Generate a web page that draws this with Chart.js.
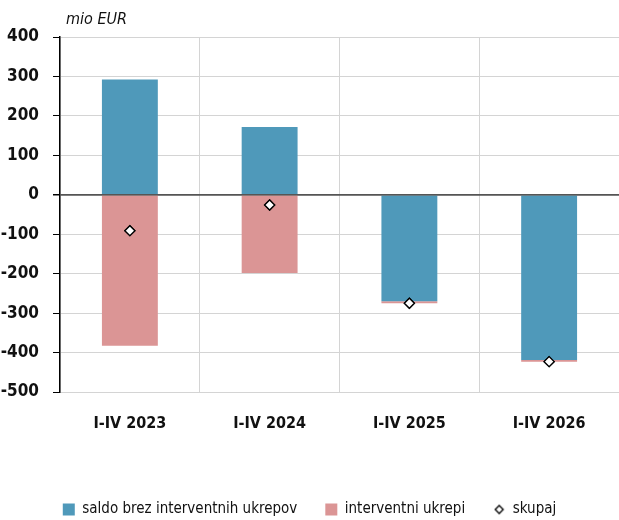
<!DOCTYPE html>
<html>
<head>
<meta charset="utf-8">
<script src="https://cdn.jsdelivr.net/npm/chart.js@4.4.1/dist/chart.umd.min.js"></script>
<style>
  body { margin: 0; background: #fff; }
  #wrap { width: 619px; height: 520px; }
</style>
</head>
<body>
<div id="wrap"><canvas id="saldoChart"></canvas></div>
<script>
var categories = ['I-IV 2023', 'I-IV 2024', 'I-IV 2025', 'I-IV 2026'];
var saldoBrez = [292, 172, -270, -419];
var interventni = [-383, -198, -5, -4];
var skupaj = [-91, -26, -275, -423];
var yTicks = [400, 300, 200, 100, 0, -100, -200, -300, -400, -500];

var fontName = "'DejaVu Sans Condensed', 'Liberation Sans Narrow', sans-serif";

// small diamond for the legend
var diamond = document.createElement('canvas');
diamond.width = 12; diamond.height = 12;
var dc = diamond.getContext('2d');
dc.beginPath();
dc.moveTo(6, 2); dc.lineTo(10, 6); dc.lineTo(6, 10); dc.lineTo(2, 6); dc.closePath();
dc.fillStyle = '#fff'; dc.fill();
dc.lineWidth = 1.3; dc.strokeStyle = '#000'; dc.stroke();

var extras = {
    id: 'extras',
    afterDatasetsDraw: function (chart) {
        // zero line drawn over the bars, as in the original
        var c = chart.ctx, a = chart.chartArea;
        var y0 = chart.scales.y.getPixelForValue(0);
        c.save();
        c.strokeStyle = '#555';
        c.lineWidth = 1.5;
        c.beginPath();
        c.moveTo(a.left, y0);
        c.lineTo(a.right, y0);
        c.stroke();
        c.restore();
        // redraw points on top
        chart.getDatasetMeta(2).controller.draw();
    },
    afterDraw: function (chart) {
        var c = chart.ctx;
        c.save();
        c.font = "italic 16px " + fontName;
        c.fillStyle = '#111';
        c.textBaseline = 'middle';
        c.fillText('mio EUR', chart.chartArea.left + 6, 20);
        c.restore();
    }
};

var ctx = document.getElementById('saldoChart').getContext('2d');
var myChart = new Chart(ctx, {
    type: 'bar',
    data: {
        labels: categories,
        datasets: [{
            label: 'saldo brez interventnih ukrepov',
            data: saldoBrez,
            backgroundColor: '#4f99ba',
            stack: 's',
            order: 1,
            barPercentage: 0.4,
            categoryPercentage: 1
        }, {
            label: 'interventni ukrepi',
            data: interventni,
            backgroundColor: '#db9595',
            stack: 's',
            order: 1,
            barPercentage: 0.4,
            categoryPercentage: 1
        }, {
            type: 'line',
            label: 'skupaj',
            data: skupaj,
            stack: 'total',
            order: 0,
            showLine: false,
            pointStyle: 'rectRot',
            pointRadius: 5,
            pointBackgroundColor: '#fff',
            pointBorderColor: '#000',
            pointBorderWidth: 1.3,
            backgroundColor: '#fff',
            borderColor: '#000'
        }]
    },
    options: {
        responsive: true,
        maintainAspectRatio: false,
        animation: false,
        layout: { autoPadding: false, padding: { top: 37, right: 0, bottom: -7, left: 0 } },
        plugins: {
            tooltip: { enabled: false },
            legend: {
                position: 'bottom',
                labels: {
                    usePointStyle: true,
                    boxWidth: 12,
                    boxHeight: 12,
                    padding: 28,
                    color: '#111',
                    font: { family: fontName, size: 15 },
                    sort: function (a, b) { return a.datasetIndex - b.datasetIndex; },
                    generateLabels: function (chart) {
                        var items = Chart.defaults.plugins.legend.labels.generateLabels(chart);
                        items.forEach(function (it) {
                            it.pointStyle = it.datasetIndex === 2 ? diamond : 'rect';
                            it.lineWidth = 0;
                        });
                        return items;
                    }
                }
            }
        },
        scales: {
            x: {
                stacked: true,
                grid: { color: '#d4d4d4', offset: true, drawTicks: false },
                border: { color: '#d4d4d4' },
                ticks: {
                    color: '#111',
                    padding: 22,
                    font: { family: fontName, size: 16, weight: 'bold' }
                },
                afterFit: function (s) { s.height = 82; }
            },
            y: {
                stacked: true,
                min: -500,
                max: 400,
                afterBuildTicks: function (s) {
                    s.ticks = yTicks.map(function (v) { return { value: v }; });
                },
                grid: {
                    color: function (c) { return c.tick && c.tick.value === 0 ? '#555' : '#d4d4d4'; },
                    lineWidth: function (c) { return c.tick && c.tick.value === 0 ? 1.5 : 1; },
                    tickColor: '#000',
                    tickLength: 7
                },
                border: { color: '#000', width: 1.5 },
                ticks: {
                    color: '#111',
                    padding: 14,
                    font: { family: fontName, size: 17, weight: 'bold' }
                },
                afterFit: function (s) { s.width = 60; }
            }
        }
    },
    plugins: [extras]
});
</script>
</body>
</html>
